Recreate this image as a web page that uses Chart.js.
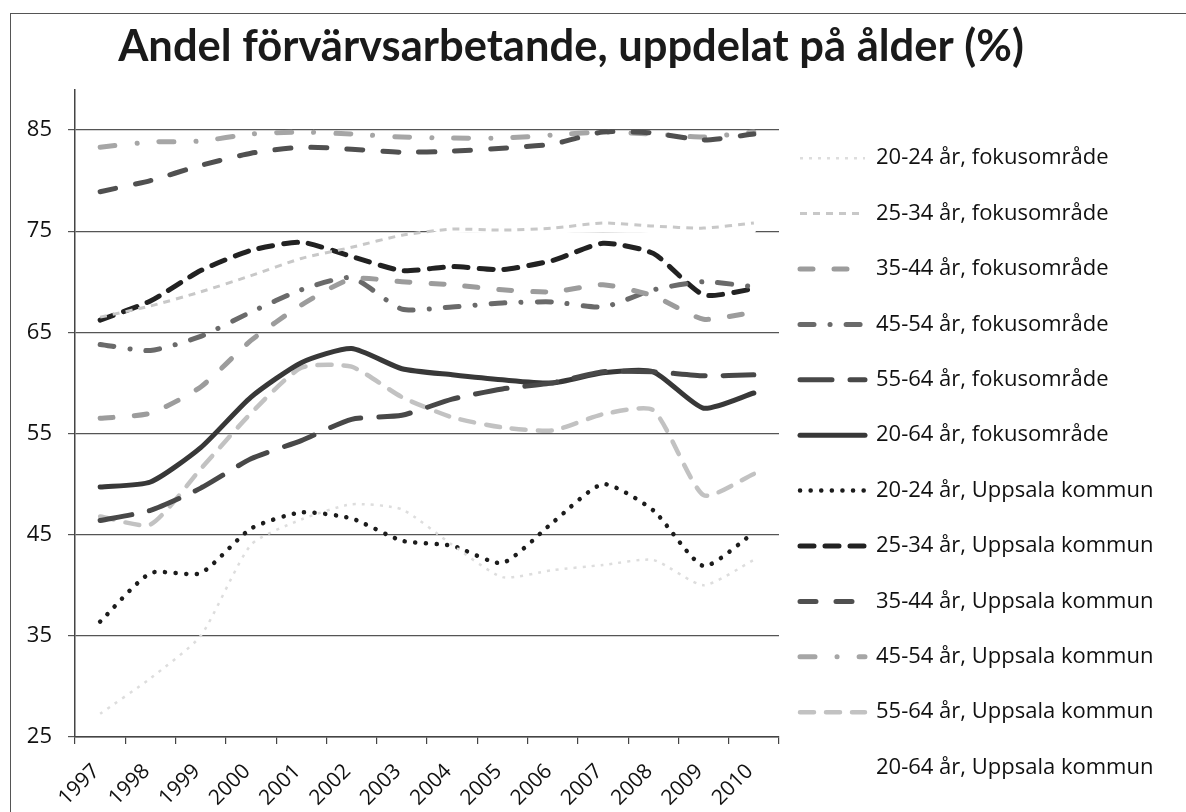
<!DOCTYPE html>
<html>
<head>
<meta charset="utf-8">
<script src="https://cdn.jsdelivr.net/npm/chart.js@4.4.1/dist/chart.umd.min.js"></script>
<style>
    body { margin: 0; background: #fff; }
    #wrap { position: relative; width: 1186px; height: 812px; overflow: hidden; }
    #frame { position: absolute; left: 10px; top: 13px; right: -4px; bottom: -4px; border-left: 1.5px solid #555; border-top: 1.5px solid #555; pointer-events: none; }
</style>
</head>
<body>
<div id="wrap">
    <canvas id="chart" width="1186" height="812"></canvas>
    <div id="frame"></div>
</div>
<script>
const years = ['1997', '1998', '1999', '2000', '2001', '2002', '2003', '2004', '2005', '2006', '2007', '2008', '2009', '2010'];
const yTicks = [25, 35, 45, 55, 65, 75, 85];

// fokusområde
const fokus2024 = [27.3, 30.8, 35, 44, 46.5, 48, 47.5, 44, 40.8, 41.5, 42, 42.5, 40, 42.5];
const fokus2534 = [66.5, 67.6, 69, 70.6, 72.3, 73.4, 74.6, 75.2, 75.1, 75.3, 75.8, 75.5, 75.3, 75.8];
const fokus3544 = [56.5, 57, 59.6, 64.2, 67.7, 70.3, 70, 69.7, 69.2, 69, 69.7, 68.6, 66.3, 67];
const fokus4554 = [63.8, 63.2, 64.6, 67, 69.2, 70.4, 67.3, 67.5, 67.9, 68, 67.5, 69.2, 70, 69.5];
const fokus5564 = [46.4, 47.4, 49.6, 52.5, 54.3, 56.4, 56.8, 58.4, 59.4, 60, 61.1, 61.1, 60.7, 60.8];
const fokus2064 = [49.7, 50.2, 53.6, 58.6, 62, 63.4, 61.4, 60.8, 60.3, 60, 61, 61.1, 57.5, 59];

// Uppsala kommun
const upp2024 = [36.4, 41.2, 41.2, 45.6, 47.2, 46.6, 44.4, 43.9, 42.2, 46.2, 50, 47.4, 41.9, 45.2];
const upp2534 = [66.2, 68.1, 71.1, 73.1, 73.9, 72.5, 71.1, 71.5, 71.2, 72.1, 73.8, 72.8, 68.7, 69.3];
const upp3544 = [78.9, 80, 81.5, 82.7, 83.3, 83.1, 82.8, 82.9, 83.2, 83.6, 84.8, 84.7, 84, 84.6];
const upp4554 = [83.3, 83.8, 83.9, 84.6, 84.8, 84.6, 84.3, 84.2, 84.2, 84.5, 84.8, 84.6, 84.3, 84.8];
const upp5564 = [46.8, 46, 51.5, 57, 61.5, 61.6, 58.6, 56.6, 55.6, 55.3, 56.9, 57.3, 48.9, 51];
const upp2064 = [66, 67.3, 68.8, 70.3, 71.8, 73, 74.2, 75, 75, 75, 75.1, 75, 74.9, 75];

const FONT = 'Open Sans', TITLE_FONT = 'Lato';
const legendSize = 22, legendPad = 33.4, sampleW = 65;
const plotRight = 779, legendX = 800, titleX = 571;

function series(label, data, color, width, dash, cap) {
    return {
        label, data,
        borderColor: color,
        backgroundColor: color,
        borderWidth: width,
        borderDash: dash,
        borderCapStyle: cap || 'round',
        pointRadius: 0,
        pointHoverRadius: 0,
        fill: false,
        tension: 0.2
    };
}

const datasets = [
    series('20-24 år, fokusområde', fokus2024, '#dddddd', 2.5, [3, 6], 'butt'),
    series('25-34 år, fokusområde', fokus2534, '#c8c8c8', 3, [7, 6], 'butt'),
    series('35-44 år, fokusområde', fokus3544, '#9c9c9c', 5, [13, 21]),
    series('45-54 år, fokusområde', fokus4554, '#6a6a6a', 5, [14, 16, 0.1, 16]),
    series('55-64 år, fokusområde', fokus5564, '#484848', 5, [32, 18]),
    series('20-64 år, fokusområde', fokus2064, '#383838', 5, []),
    series('20-24 år, Uppsala kommun', upp2024, '#1c1c1c', 4.5, [0.1, 10.5]),
    series('25-34 år, Uppsala kommun', upp2534, '#222222', 5, [14, 11]),
    series('35-44 år, Uppsala kommun', upp3544, '#505050', 5, [16, 20]),
    series('45-54 år, Uppsala kommun', upp4554, '#a6a6a6', 5, [15, 22, 0.1, 22]),
    series('55-64 år, Uppsala kommun', upp5564, '#c2c2c2', 4.5, [14, 12]),
    series('20-64 år, Uppsala kommun', upp2064, '#ffffff', 4, [])
];

// width of the longest legend text, so the plot ends where the legend begins
const measure = document.createElement('canvas').getContext('2d');
measure.font = legendSize + 'px "' + FONT + '"';
const textW = Math.max(...datasets.map(d => measure.measureText(d.label).width));
const legendW = legendPad + sampleW + legendSize / 2 + textW + 10;
const padRight = Math.max(0, 1186 - plotRight - legendW);

// move legend and title to where they sit in the original
const placeBoxes = {
    id: 'placeBoxes',
    afterLayout(chart) {
        chart.legend.left = legendX - legendPad;
        chart.legend.right = 1186;
        chart.titleBlock.left = 0;
        chart.titleBlock.right = titleX * 2;
    }
};

new Chart(document.getElementById('chart'), {
    type: 'line',
    data: { labels: years, datasets },
    plugins: [placeBoxes],
    options: {
        responsive: false,
        animation: false,
        layout: { padding: { left: 0, right: padRight, top: 0, bottom: 0 } },
        plugins: {
            title: {
                display: true,
                text: 'Andel förvärvsarbetande, uppdelat på ålder (%)',
                color: '#1a1a1a',
                font: { family: TITLE_FONT, size: 43.5, weight: 'bold', lineHeight: 1.2 },
                padding: { top: 20.9, bottom: 16.4 }
            },
            legend: {
                position: 'right',
                align: 'end',
                maxWidth: 1186 - plotRight,
                labels: {
                    usePointStyle: true,
                    pointStyle: 'line',
                    pointStyleWidth: sampleW,
                    padding: legendPad,
                    color: '#111',
                    font: { family: FONT, size: legendSize },
                    generateLabels: chart => Chart.defaults.plugins.legend.labels.generateLabels(chart).map(item => {
                        const ds = chart.data.datasets[item.datasetIndex];
                        return { ...item, lineDash: ds.borderDash, lineCap: ds.borderCapStyle, lineWidth: ds.borderWidth, strokeStyle: ds.borderColor };
                    })
                }
            },
            tooltip: { enabled: false }
        },
        scales: {
            x: {
                offset: true,
                grid: { offset: true, drawOnChartArea: false, drawTicks: true, tickLength: 7, color: '#444', lineWidth: 1.2 },
                border: { color: '#444', width: 1.5 },
                ticks: { color: '#111', font: { family: FONT, size: 21 }, minRotation: 45, maxRotation: 45, padding: 15, labelOffset: -4, autoSkip: false },
                afterFit: s => { s.height = 75; }
            },
            y: {
                min: 25,
                max: 89,
                afterBuildTicks: s => { s.ticks = yTicks.map(v => ({ value: v })); },
                grid: { color: '#555', lineWidth: 1.2, tickLength: 7 },
                border: { color: '#444', width: 1.5 },
                ticks: { color: '#111', font: { family: FONT, size: 22 }, padding: 16 },
                afterFit: s => { s.width = 75; }
            }
        }
    }
});
</script>
</body>
</html>
